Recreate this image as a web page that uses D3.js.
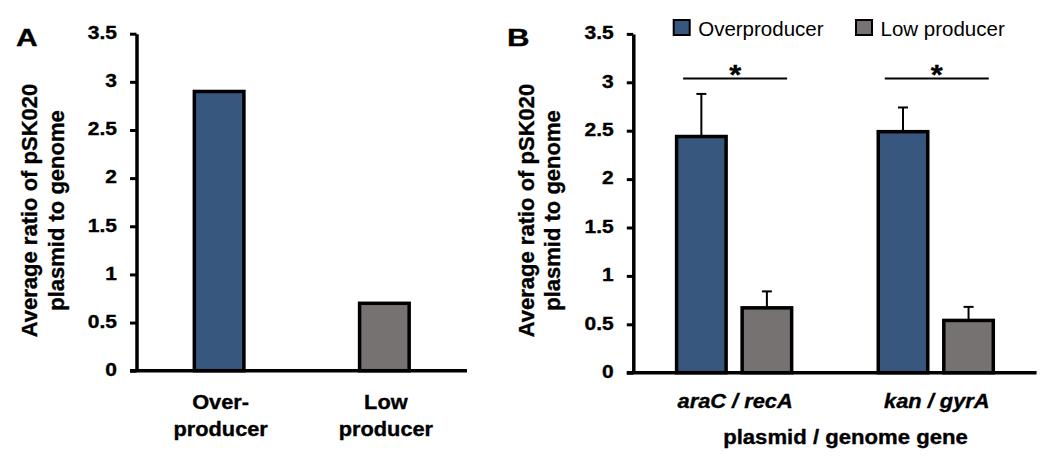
<!DOCTYPE html>
<html>
<head>
<meta charset="utf-8">
<script src="https://cdn.jsdelivr.net/npm/d3@7"></script>
<style>
  html, body { margin: 0; padding: 0; background: #fff; }
  svg { display: block; }
</style>
</head>
<body>
<script>
// ---------- data ----------
const yTicks = [0, 0.5, 1, 1.5, 2, 2.5, 3, 3.5];
const yTickLabels = ["0", "0.5", "1", "1.5", "2", "2.5", "3", "3.5"];
const yTitleLines = ["Average ratio of pSK020", "plasmid to genome"];

// Panel A
const catsA = ["Over-producer", "Low producer"];
const catsALines = [["Over-", "producer"], ["Low", "producer"]];
const valuesA = [2.9, 0.70];

// Panel B
const groupsB = ["araC / recA", "kan / gyrA"];
const seriesB = ["Overproducer", "Low producer"];
const overB = [2.44, 2.49];
const overErrB = [0.44, 0.25];
const lowB = [0.67, 0.54];
const lowErrB = [0.17, 0.14];
const sigLevelB = [3.04, 3.04];
const sigLabelB = ["*", "*"];
const xTitleB = "plasmid / genome gene";

const colors = { "Overproducer": "#37577e", "Low producer": "#767271" };
const FONT = "'Liberation Sans', Arial, Helvetica, sans-serif";

// ---------- setup ----------
const W = 1050, H = 464;
const svg = d3.select("body").append("svg").attr("width", W).attr("height", H);
svg.append("rect").attr("width", W).attr("height", H).attr("fill", "#fff");

function label(parent, x, y, s, o) {
  const bold = (o.weight || "bold") === "bold";
  return parent.append("text")
    .attr("transform", `translate(${x},${y}) scale(${o.sx || 1},1)${o.rot ? " rotate(-90)" : ""}`)
    .attr("text-anchor", o.anchor || "middle")
    .style("font-family", FONT)
    .style("font-size", o.size + "px")
    .style("font-weight", o.weight || "bold")
    .style("font-style", o.style || "normal")
    .attr("fill", "#000")
    .attr("stroke", bold ? "#000" : "none")
    .attr("stroke-width", bold ? 0.35 : 0)
    .text(s);
}

function yAxis(g, y, x0) {
  const ax = g.append("g").attr("transform", `translate(${x0},0)`)
    .call(d3.axisLeft(y).tickValues(yTicks).tickSize(6.5).tickSizeOuter(0).tickFormat(""));
  ax.select(".domain").attr("stroke", "#000").attr("stroke-width", 3.5);
  ax.selectAll(".tick line").attr("stroke", "#000").attr("stroke-width", 3);
  yTicks.forEach((v, i) => {
    label(g, x0 - 19.5, y(v) + 5.3, yTickLabels[i], { size: 17.5, sx: 1.2, anchor: "end" });
  });
}

function yTitle(g, xs, cy) {
  yTitleLines.forEach((t, i) => label(g, xs[i], cy, t, { size: 22, rot: true }));
}

const BAR_STROKE = 3.5;

// ---------- Panel A ----------
const gA = svg.append("g");
const xA = d3.scaleBand().domain(catsA).range([136.5, 467]);
const yA = d3.scaleLinear().domain([0, 3.5]).range([370.7, 33.7]);
const bwA = xA.bandwidth() * 0.3;

gA.selectAll("rect.bar").data(catsA).join("rect")
  .attr("class", "bar")
  .attr("x", d => xA(d) + xA.bandwidth() / 2 - bwA / 2)
  .attr("y", (d, i) => yA(valuesA[i]))
  .attr("width", bwA)
  .attr("height", (d, i) => yA(0) - yA(valuesA[i]))
  .attr("fill", (d, i) => i === 0 ? colors["Overproducer"] : colors["Low producer"])
  .attr("stroke", "#000").attr("stroke-width", BAR_STROKE);

yAxis(gA, yA, 136.5);
gA.append("line")
  .attr("x1", xA.range()[0] - 6.5).attr("x2", xA.range()[1])
  .attr("y1", yA(0)).attr("y2", yA(0))
  .attr("stroke", "#000").attr("stroke-width", 3.5);

catsA.forEach((c, i) => {
  const cx = xA(c) + xA.bandwidth() / 2 + 1.5;
  catsALines[i].forEach((ln, j) => label(gA, cx, 409.3 + j * 26.2, ln, { size: 20, sx: 1.09 }));
});
yTitle(gA, [37, 63.5], 210.5);
label(gA, 16, 46, "A", { size: 24, sx: 1.25, anchor: "start" });

// ---------- Panel B ----------
const gB = svg.append("g");
const xB = d3.scaleBand().domain(groupsB).range([633.3, 1036.6]);
const xSub = d3.scaleBand().domain(seriesB).range([xB.bandwidth() * 0.175, xB.bandwidth() * 0.825]);
const yB = d3.scaleLinear().domain([0, 3.5]).range([372.7, 33.9]);
const bwB = 49.5;

const rowsB = [];
groupsB.forEach((g, i) => {
  rowsB.push({ g, s: seriesB[0], v: overB[i], e: overErrB[i] });
  rowsB.push({ g, s: seriesB[1], v: lowB[i], e: lowErrB[i] });
});
const cxB = d => xB(d.g) + xSub(d.s) + xSub.bandwidth() / 2;

// error bars
const eg = gB.append("g").attr("stroke", "#000").attr("stroke-width", 2);
rowsB.forEach(d => {
  const cx = cxB(d);
  eg.append("line").attr("x1", cx).attr("x2", cx).attr("y1", yB(d.v)).attr("y2", yB(d.v + d.e));
  eg.append("line").attr("x1", cx - 5).attr("x2", cx + 5).attr("y1", yB(d.v + d.e)).attr("y2", yB(d.v + d.e));
});

gB.selectAll("rect.bar").data(rowsB).join("rect")
  .attr("class", "bar")
  .attr("x", d => cxB(d) - bwB / 2)
  .attr("y", d => yB(d.v))
  .attr("width", bwB)
  .attr("height", d => yB(0) - yB(d.v))
  .attr("fill", d => colors[d.s])
  .attr("stroke", "#000").attr("stroke-width", BAR_STROKE);

yAxis(gB, yB, 633.3);
gB.append("line")
  .attr("x1", xB.range()[0] - 6.5).attr("x2", xB.range()[1])
  .attr("y1", yB(0)).attr("y2", yB(0))
  .attr("stroke", "#000").attr("stroke-width", 3.5);

// significance
groupsB.forEach((g, i) => {
  const cx = xB(g) + xB.bandwidth() / 2 + 1;
  gB.append("line").attr("x1", cx - 52).attr("x2", cx + 52)
    .attr("y1", yB(sigLevelB[i])).attr("y2", yB(sigLevelB[i]))
    .attr("stroke", "#000").attr("stroke-width", 2);
  label(gB, cx, yB(sigLevelB[i]) + 5.5, sigLabelB[i], { size: 28, sx: 1.1 });
});

// category labels
groupsB.forEach(g => {
  label(gB, xB(g) + xB.bandwidth() / 2 + 1, 408.3, g, { size: 19.5, sx: 1.12, style: "italic" });
});
label(gB, 845.5, 443.5, xTitleB, { size: 20.5, sx: 1.08 });
yTitle(gB, [534, 560], 210.5);
label(gB, 507, 45.5, "B", { size: 24, sx: 1.3, anchor: "start" });

// legend
const legX = [673.7, 856];
seriesB.forEach((s, i) => {
  gB.append("rect").attr("x", legX[i]).attr("y", 20).attr("width", 16).attr("height", 15)
    .attr("fill", colors[s]).attr("stroke", "#000").attr("stroke-width", 2);
  label(gB, legX[i] + 24.5, 35.5, s, { size: 20.5, weight: "normal", anchor: "start" });
});
</script>
</body>
</html>
